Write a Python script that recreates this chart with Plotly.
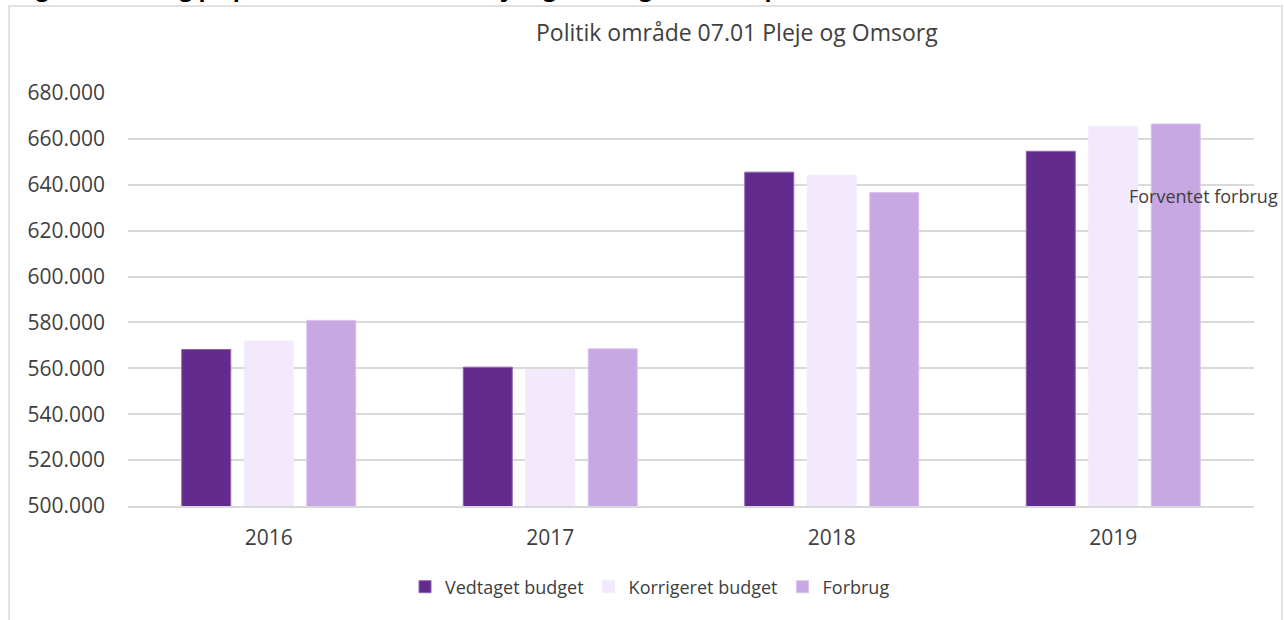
import plotly.graph_objects as go

years = ["2016", "2017", "2018", "2019"]
vedtaget = [568.2, 560.5, 645.5, 654.6]
korrigeret = [571.9, 559.5, 644.1, 665.5]
forbrug = [580.9, 568.5, 636.6, 666.5]
series_names = ["Vedtaget budget", "Korrigeret budget", "Forbrug"]
colors = ["#632B8D", "#F2EAFC", "#C8A8E2"]
outline = ["#8E63B0", "#F2EAFC", "#D9C2EE"]
y_ticks = [500, 520, 540, 560, 580, 600, 620, 640, 660, 680]
y_tick_text = ["500.000", "520.000", "540.000", "560.000", "580.000", "600.000",
               "620.000", "640.000", "660.000", "680.000"]

W, H = 1284, 620
L, T = 128, 93
B = H - 506
R = W - 1254
pw, ph = W - L - R, H - T - B

def px(x):
    return (x - L) / pw

def py(y):
    return (H - B - y) / ph

fig = go.Figure()
for name, vals, c, oc in zip(series_names, [vedtaget, korrigeret, forbrug], colors, outline):
    fig.add_trace(go.Bar(x=years, y=vals, name=name, marker=dict(color=c, line=dict(color=oc, width=1))))

font = "'Open Sans', sans-serif"
fig.update_layout(
    width=W, height=H,
    margin=dict(l=L, r=R, t=T, b=B, autoexpand=False),
    paper_bgcolor="white", plot_bgcolor="white",
    barmode="group", bargap=0.334, bargroupgap=0.216,
    font=dict(family=font, size=17, color="#404040"),
    showlegend=True,
    legend=dict(orientation="h", x=px(650), xanchor="center", y=py(587), yanchor="middle",
                font=dict(size=18, color="#404040"), traceorder="normal", itemwidth=30),
    xaxis=dict(showgrid=False, showline=True, linecolor="#D9D9D9", linewidth=1.5,
               ticks="", tickfont=dict(size=21, color="#404040"), ticklabelstandoff=12),
    yaxis=dict(range=[500, 680], tickvals=y_ticks, ticktext=y_tick_text,
               showgrid=True, gridcolor="#D9D9D9", gridwidth=1.5, zeroline=False,
               showline=False, ticks="", tickfont=dict(size=21, color="#404040"), ticklabelstandoff=22),
    shapes=[dict(type="rect", xref="paper", yref="paper",
                 x0=px(9), x1=px(1282), y0=py(640), y1=py(6),
                 line=dict(color="#D9D9D9", width=1.5), fillcolor="rgba(0,0,0,0)", layer="below")],
    annotations=[
        dict(text="Politik område 07.01 Pleje og Omsorg", xref="paper", yref="paper",
             x=px(737), y=py(32), xanchor="center", yanchor="middle", showarrow=False,
             font=dict(size=23, color="#404040")),
        dict(text="Forventet forbrug", xref="paper", yref="y", x=px(1127), y=635,
             xanchor="left", yanchor="middle", showarrow=False,
             font=dict(size=18, color="#404040")),
        dict(text="<b>Udgiftsudvikling på politikområde 07.01 Pleje og Omsorg (løbende priser)</b>",
             xref="paper", yref="paper", x=px(2), y=py(5), xanchor="left", yanchor="bottom",
             showarrow=False, font=dict(size=23, color="#000000")),
    ],
)
fig.write_html("out.html", config={"displayModeBar": False},
               post_script="document.body.style.margin='0px';")
